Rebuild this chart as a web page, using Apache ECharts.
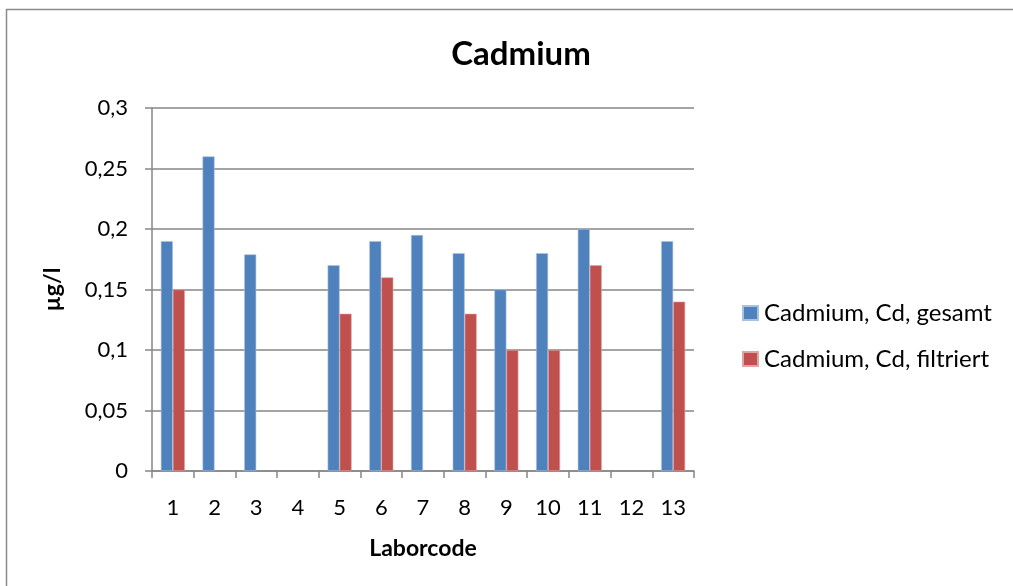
<!DOCTYPE html>
<html>
<head>
<meta charset="utf-8">
<script src="https://cdn.jsdelivr.net/npm/echarts@6/dist/echarts.min.js"></script>
<style>
    html, body { margin: 0; padding: 0; background: #fff; }
    #chart { width: 1013px; height: 586px; }
</style>
</head>
<body>
<div id="chart"></div>
<script>
var categories = ['1', '2', '3', '4', '5', '6', '7', '8', '9', '10', '11', '12', '13'];
var gesamt = [0.19, 0.26, 0.179, null, 0.17, 0.19, 0.195, 0.18, 0.15, 0.18, 0.2, null, 0.19];
var filtriert = [0.15, null, null, null, 0.13, 0.16, null, 0.13, 0.1, 0.1, 0.17, null, 0.14];
var yTicks = ['0', '0,05', '0,1', '0,15', '0,2', '0,25', '0,3'];

var font = 'Lato, "Open Sans", sans-serif';
var chart = echarts.init(document.getElementById('chart'));

var option = {
    animation: false,
    backgroundColor: '#fff',
    textStyle: {fontFamily: font, color: '#000'},
    title: {
        text: 'Cadmium',
        left: 516,
        top: 33,
        textAlign: 'center',
        textStyle: {fontFamily: font, fontSize: 33, fontWeight: 'bold', color: '#000'}
    },
    graphic: [{
        type: 'rect',
        shape: {x: 6.5, y: 9.5, width: 1100, height: 700},
        style: {fill: 'none', stroke: '#8a8a8a', lineWidth: 1.5},
        silent: true
    }],
    legend: {
        orient: 'vertical',
        left: 737,
        top: 296,
        itemWidth: 15,
        itemHeight: 14,
        itemGap: 22,
        icon: 'rect',
        textStyle: {fontFamily: font, fontSize: 24, color: '#000', padding: [0, 0, 0, 1]},
        data: ['Cadmium, Cd, gesamt', 'Cadmium, Cd, filtriert']
    },
    grid: {left: 152, right: 319, top: 108, bottom: 115},
    xAxis: {
        type: 'category',
        data: categories,
        name: 'Laborcode',
        nameLocation: 'middle',
        nameGap: 66,
        nameTextStyle: {fontFamily: font, fontSize: 23, fontWeight: 'bold', color: '#000'},
        axisLine: {lineStyle: {color: '#868686', width: 1.5}},
        axisTick: {show: true, length: 7, lineStyle: {color: '#868686', width: 1.5}},
        axisLabel: {fontFamily: font, fontSize: 22, color: '#000', margin: 26}
    },
    yAxis: {
        type: 'value',
        min: 0,
        max: 0.3,
        interval: 0.05,
        name: 'µg/l',
        nameLocation: 'middle',
        nameGap: 88,
        nameRotate: 90,
        nameTextStyle: {fontFamily: font, fontSize: 23, fontWeight: 'bold', color: '#000'},
        axisLine: {show: true, lineStyle: {color: '#868686', width: 1.5}},
        axisTick: {show: true, length: 7, lineStyle: {color: '#868686', width: 1.5}},
        splitLine: {lineStyle: {color: '#868686', width: 1.5}},
        axisLabel: {
            fontFamily: font, fontSize: 22, color: '#000', margin: 24,
            formatter: function (v) { return yTicks[Math.round(v / 0.05)]; }
        }
    },
    series: [{
        name: 'Cadmium, Cd, gesamt',
        type: 'bar',
        data: gesamt,
        barWidth: 12,
        barGap: '0%',
        itemStyle: {color: '#4F81BD', borderColor: '#a9c1e0', borderWidth: 0.6}
    }, {
        name: 'Cadmium, Cd, filtriert',
        type: 'bar',
        data: filtriert,
        barWidth: 12,
        itemStyle: {color: '#C0504D', borderColor: '#dfa5a4', borderWidth: 0.6}
    }]
};
chart.setOption(option);
</script>
</body>
</html>
